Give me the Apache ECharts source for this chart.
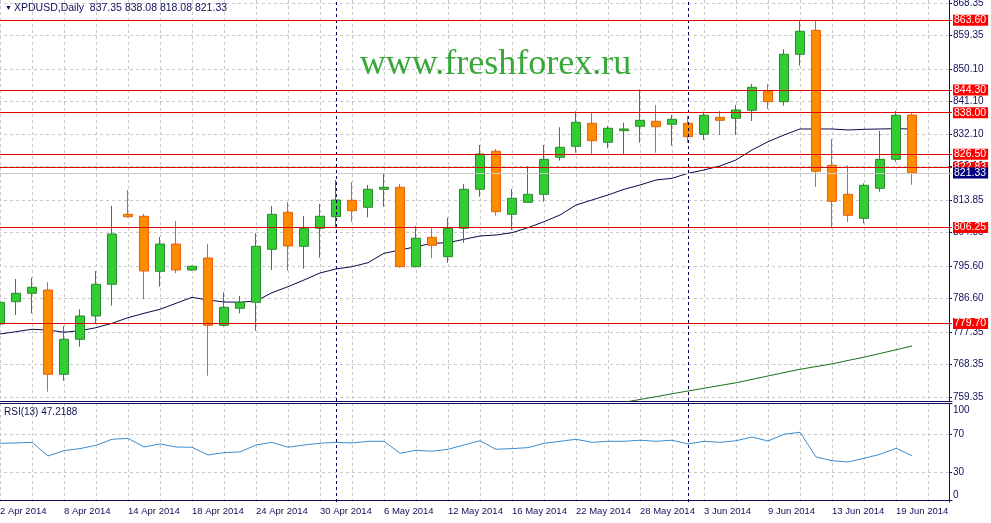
<!DOCTYPE html>
<html><head><meta charset="utf-8">
<script src="https://cdn.jsdelivr.net/npm/echarts@6/dist/echarts.min.js"></script>
<style>html,body{margin:0;padding:0;background:#fff}#c{width:991px;height:523px}</style>
</head><body><div id="c"></div>
<script>
const dates = ['2 Apr 2014','3 Apr 2014','4 Apr 2014','7 Apr 2014','8 Apr 2014','9 Apr 2014','10 Apr 2014','11 Apr 2014',
'14 Apr 2014','15 Apr 2014','16 Apr 2014','17 Apr 2014','18 Apr 2014','21 Apr 2014','22 Apr 2014','23 Apr 2014',
'24 Apr 2014','25 Apr 2014','28 Apr 2014','29 Apr 2014','30 Apr 2014','1 May 2014','2 May 2014','5 May 2014',
'6 May 2014','7 May 2014','8 May 2014','9 May 2014','12 May 2014','13 May 2014','14 May 2014','15 May 2014',
'16 May 2014','19 May 2014','20 May 2014','21 May 2014','22 May 2014','23 May 2014','26 May 2014','27 May 2014',
'28 May 2014','29 May 2014','30 May 2014','2 Jun 2014','3 Jun 2014','4 Jun 2014','5 Jun 2014','6 Jun 2014',
'9 Jun 2014','10 Jun 2014','11 Jun 2014','12 Jun 2014','13 Jun 2014','16 Jun 2014','17 Jun 2014','18 Jun 2014',
'19 Jun 2014','20 Jun 2014'];
const emptySlots = [' ', '  '];

const opens  = [779.55,785.72,788.05,788.96,765.64,775.32,781.77,790.54,809.90,809.35,794.13,801.68,794.49,797.81,779.19,783.90,
785.56,800.22,810.45,801.05,806.03,809.24,813.77,811.84,816.81,817.37,795.40,803.54,798.17,806.03,816.81,827.33,
809.90,813.22,815.43,825.67,828.71,835.07,829.82,833.02,834.24,835.63,834.80,835.07,832.03,836.73,836.46,838.67,
844.01,841.05,854.16,860.80,823.45,815.43,808.79,817.09,825.11,837.35];
const closes = [785.56,788.05,789.70,765.64,775.32,781.77,790.54,804.45,809.24,794.21,801.68,794.49,795.51,779.19,784.17,785.56,
801.05,809.90,801.13,806.03,809.35,813.85,810.89,816.81,817.37,795.40,803.26,801.32,806.03,816.81,826.58,810.62,
814.33,815.43,825.11,828.43,835.35,830.26,833.69,833.50,835.90,834.13,836.18,831.37,837.29,835.90,838.75,845.03,
841.05,854.16,860.52,821.79,813.50,809.62,817.92,825.11,837.29,821.33];
const lows   = [777.50,782.04,782.51,760.83,763.87,773.27,779.55,784.62,808.96,786.39,789.87,793.58,794.30,765.25,778.81,782.51,
777.70,794.49,794.30,794.85,797.89,806.03,807.85,809.07,812.00,795.13,795.20,797.73,796.51,802.04,814.77,809.51,
805.56,813.20,813.39,824.73,826.94,826.58,828.16,826.58,829.71,826.94,828.88,829.71,830.45,831.84,831.84,835.71,
839.03,839.94,851.01,817.53,806.03,807.77,807.41,816.15,824.45,818.08];
const highs  = [790.30,792.00,792.36,791.09,779.00,783.62,794.21,812.20,816.62,809.98,803.62,808.05,795.70,801.68,788.32,787.30,
804.64,812.20,813.30,809.43,812.75,819.39,818.83,818.00,821.24,818.28,806.66,806.03,808.96,818.28,829.07,827.96,
816.90,823.26,829.07,833.97,838.39,838.11,834.33,835.24,844.48,840.13,837.37,837.09,838.28,838.48,840.13,845.94,
845.94,855.54,863.65,863.37,830.73,823.45,818.47,832.94,838.48,838.08];

const maShort = [776.79,777.42,778.09,777.89,777.26,777.70,778.53,779.75,781.30,782.51,783.62,785.28,786.94,786.19,785.64,785.56,
785.92,788.21,789.87,791.72,793.66,794.77,795.40,796.51,799.11,800.02,800.94,801.88,802.04,802.98,803.90,804.17,
804.81,806.19,807.85,809.71,812.47,813.85,815.24,816.81,818.00,819.39,819.86,821.24,822.15,823.26,824.92,827.69,
829.98,831.84,833.50,833.50,833.50,833.22,833.41,833.50,833.58,833.50];
const maLong = [null,null,null,null,null,null,null,null,null,null,null,null,null,null,null,null,
null,null,null,null,null,null,null,null,null,null,null,null,null,null,null,null,
null,null,null,null,null,null,null,757.89,758.67,759.44,760.24,761.02,761.77,762.54,763.29,764.23,
765.17,766.11,767.02,767.77,768.52,769.46,770.37,771.39,772.42,773.47];
const rsi = [60.2,60.5,61.2,46.8,52.5,54.6,58.1,64.4,65.4,56.3,59.5,56.3,56.0,47.9,50.3,51.1,
58.4,61.2,56.0,58.4,60.2,61.2,60.5,62.3,62.3,49.7,52.8,51.8,53.9,58.4,62.9,53.9,
54.6,55.6,60.2,62.3,64.4,61.2,62.3,62.3,63.4,62.3,63.4,59.5,62.3,61.2,62.9,66.8,
62.6,69.7,71.8,45.8,41.9,40.5,44.4,48.6,54.9,47.2188];

const levels = [863.60, 844.30, 838.00, 826.50, 822.83, 806.25, 779.70];
const lastPrice = 821.33;
const priceTicks = [868.35,859.35,850.10,841.10,832.10,823.10,813.85,804.85,795.60,786.60,777.35,768.35,759.35];
const rsiTicks = [0, 30, 70, 100];
const rsiLevels = [30, 70];
const separators = ['1 May 2014', '2 Jun 2014'];

const cats = dates.concat(emptySlots);
const ohlc = opens.map((o, i) => [o, closes[i], lows[i], highs[i]]);
const n = dates.length - 1;
const FONT = '"Liberation Sans", Arial, sans-serif';
const NAVY = '#10105a';
const GRIDC = '#c8c8c8';

const sepLines = separators.map(d => ({ xAxis: d, lineStyle: { color: '#000050', type: [3, 3], width: 1 }, label: { show: false } }));
const levelLines = levels.map(v => ({
  yAxis: v,
  lineStyle: { color: '#e00000', type: 'solid', width: 1, opacity: 1 },
  label: { show: true, position: 'end', distance: 1, formatter: () => v.toFixed(2),
    backgroundColor: '#ff0000', color: '#ffffff', padding: [1, 2, 0, 1], fontSize: 10.5, lineHeight: 10, fontFamily: FONT }
}));
const lastLine = {
  yAxis: lastPrice,
  lineStyle: { color: '#c8c8c8', type: 'solid', width: 1 },
  label: { show: true, position: 'end', distance: 1, formatter: () => lastPrice.toFixed(2),
    backgroundColor: '#000080', color: '#ffffff', padding: [1, 2, 0, 1], fontSize: 10.5, lineHeight: 10, fontFamily: FONT }
};

const chart = echarts.init(document.getElementById('c'), null, { renderer: 'canvas' });
const xCommon = {
  type: 'category', data: cats, boundaryGap: true,
  axisTick: { show: false },
  splitLine: { show: true, interval: 1, alignWithLabel: true, lineStyle: { color: GRIDC, type: [3, 3], width: 1 } },
  axisLine: { show: true, lineStyle: { color: NAVY, width: 1 } }
};
chart.setOption({
  animation: false,
  backgroundColor: '#ffffff',
  title: [
    { text: '▼', left: 5, top: 5, padding: 0, textStyle: { fontSize: 7, color: NAVY, fontWeight: 'normal', fontFamily: FONT } },
    { text: 'XPDUSD,Daily  ' + [opens[n], highs[n], lows[n], closes[n]].map(v => v.toFixed(2)).join(' '),
      left: 14, top: 3, padding: 0, textStyle: { fontSize: 10.5, color: NAVY, fontWeight: 'normal', fontFamily: FONT } },
    { text: 'www.freshforex.ru', left: 'center', top: 42,
      textStyle: { fontSize: 36, color: '#38a838', fontWeight: 'normal', fontFamily: '"Liberation Serif", "Times New Roman", serif' } },
    { text: 'RSI(13) ' + rsi[n].toFixed(4), left: 4, top: 407, padding: 0,
      textStyle: { fontSize: 10, color: NAVY, fontWeight: 'normal', fontFamily: FONT } }
  ],
  grid: [
    { left: -8, top: 0, width: 960, height: 401, outerBoundsMode: 'none', containLabel: false },
    { left: -8, top: 403, width: 960, height: 99, outerBoundsMode: 'none', containLabel: false }
  ],
  xAxis: [
    Object.assign({}, xCommon, { gridIndex: 0, axisLabel: { show: false } }),
    Object.assign({}, xCommon, { gridIndex: 1,
      axisLabel: { show: true, interval: 3, align: 'left', color: NAVY, fontSize: 9.5, fontFamily: FONT, margin: 4 } }),
    { type: 'category', data: cats, gridIndex: 1, position: 'top', axisTick: { show: false }, axisLabel: { show: false },
      splitLine: { show: false }, axisLine: { show: true, lineStyle: { color: NAVY, width: 1 } } }
  ],
  yAxis: [
    { gridIndex: 0, type: 'value', position: 'right', offset: -3, min: 758.25, max: 869.18, scale: true,
      axisLine: { show: true, lineStyle: { color: NAVY, width: 1 } },
      axisTick: { show: true, length: 3, customValues: priceTicks, lineStyle: { color: NAVY } },
      axisLabel: { customValues: priceTicks, formatter: v => v.toFixed(2), color: NAVY, fontSize: 10, fontFamily: FONT, margin: 4 },
      splitLine: { show: true, lineStyle: { color: GRIDC, type: [3, 3], width: 1 } } },
    { gridIndex: 1, type: 'value', position: 'right', offset: -3, min: -1.6, max: 102.6,
      axisLine: { show: true, lineStyle: { color: NAVY, width: 1 } },
      axisTick: { show: true, length: 3, customValues: rsiLevels, lineStyle: { color: NAVY } },
      axisLabel: { customValues: rsiTicks, color: NAVY, fontSize: 10, fontFamily: FONT, margin: 4,
        formatter: v => v === 100 ? '{t|100}' : (v === 0 ? '{b|0}' : String(v)),
        rich: { t: { padding: [10, 0, 0, 0], fontSize: 10, color: NAVY, fontFamily: FONT },
                b: { padding: [0, 0, 10, 0], fontSize: 10, color: NAVY, fontFamily: FONT } } },
      splitLine: { show: true, lineStyle: { color: GRIDC, type: [3, 3], width: 1 } } }
  ],
  series: [
    { name: 'MA', type: 'line', xAxisIndex: 0, yAxisIndex: 0, data: maShort, showSymbol: false, symbol: 'none',
      lineStyle: { color: '#0a0a4a', width: 1 }, z: 2, silent: true,
      markLine: { symbol: 'none', silent: true, animation: false, data: sepLines.concat(levelLines).concat([lastLine]) } },
    { name: 'MA long', type: 'line', xAxisIndex: 0, yAxisIndex: 0, data: maLong, showSymbol: false, symbol: 'none',
      lineStyle: { color: '#1e6e1e', width: 1 }, z: 2, clip: true, connectNulls: false },
    { name: 'XPDUSD', type: 'candlestick', xAxisIndex: 0, yAxisIndex: 0, data: ohlc, barWidth: 9, z: 3,
      itemStyle: { color: '#32cd32', color0: '#ff8c00', borderColor: '#2b8a2b', borderColor0: '#e8600a', borderWidth: 1 } },
    { name: 'RSI', type: 'line', xAxisIndex: 1, yAxisIndex: 1, data: rsi, showSymbol: false, symbol: 'none',
      lineStyle: { color: '#3a8cd0', width: 1 }, z: 3,
      markLine: { symbol: 'none', silent: true, animation: false, data: sepLines } }
  ]
});
</script></body></html>
